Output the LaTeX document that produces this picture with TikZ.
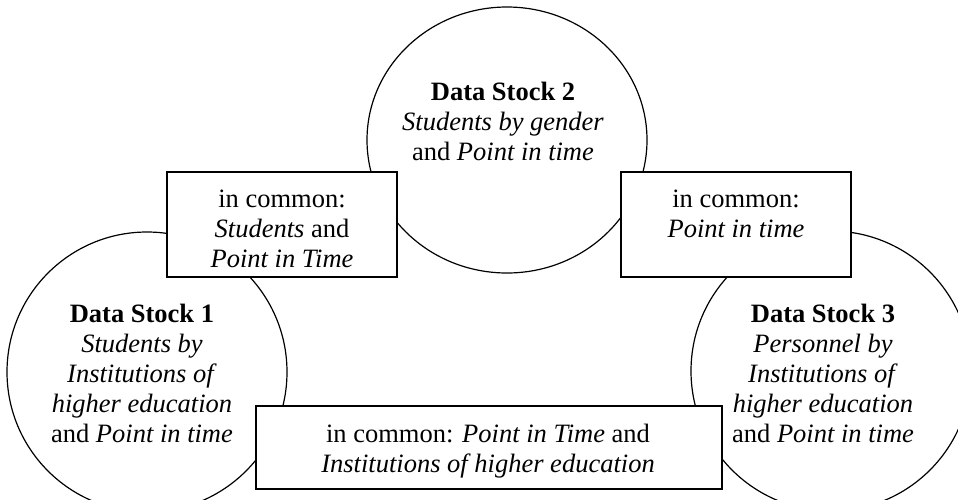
\documentclass[tikz,border=0pt]{standalone}
\usepackage{fontspec}
\setmainfont{Liberation Serif}
\usetikzlibrary{shapes.geometric}
\tikzset{
  stock/.style={ellipse,draw,line width=0.6pt,minimum width=140pt,minimum height=140pt,inner sep=0pt},
  common/.style={rectangle,draw,line width=0.8pt,fill=white,inner sep=0pt,minimum width=115pt,minimum height=52.5pt},
  txt/.style={align=center,anchor=north,inner sep=0pt,font=\fontsize{13.25}{15}\selectfont}
}
\begin{document}
\begin{tikzpicture}[x=0.5pt,y=-0.5pt]
\clip (0,0) rectangle (958,499);
% data stocks
\node[stock] (c1) at (147,372) {};
\node[stock,minimum height=133pt] (c2) at (507,140) {};
\node[stock] (c3) at (831,371) {};
% overlap boxes
\node[common] (b12) at (282,224.5) {};
\node[common] (b23) at (736,224.5) {};
\node[common,minimum width=233pt,minimum height=41.5pt] (b13) at (489,447.5) {};
% texts
\node[txt] (t1) at (142,301) {\textbf{Data Stock 1}\strut\\\textit{Students by}\strut\\\textit{Institutions of}\strut\\\textit{higher education}\strut\\and \textit{Point in time}\strut};
\node[txt] (t2) at (503,79) {\textbf{Data Stock 2}\strut\\\textit{Students by gender}\strut\\and \textit{Point in time}\strut};
\node[txt] (t3) at (823,301) {\textbf{Data Stock 3}\strut\\\textit{Personnel by}\strut\\\textit{Institutions of}\strut\\\textit{higher education}\strut\\and \textit{Point in time}\strut};
\node[txt] (s12) at (282,186) {in common:\strut\\\textit{Students} and\strut\\\textit{Point in Time}\strut};
\node[txt] (s23) at (736,186) {in common:\strut\\\textit{Point in time}\strut};
\node[txt] (s13) at (488,421) {in common: \textit{Point in Time} and\strut\\\textit{Institutions of higher education}\strut};
\end{tikzpicture}
\end{document}
